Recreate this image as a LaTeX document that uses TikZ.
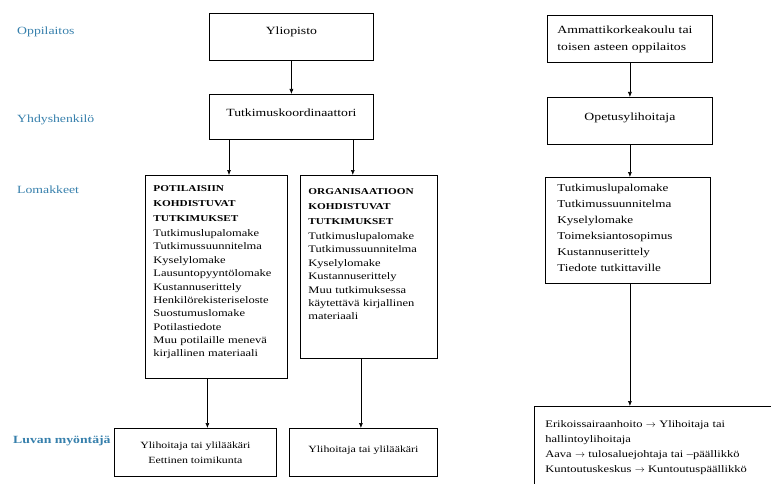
\documentclass[tikz,border=0pt]{standalone}
\usepackage{fontspec}
\setmainfont{Liberation Serif}[FakeStretch=1.25]
\usetikzlibrary{positioning,arrows.meta}
\definecolor{labelblue}{RGB}{55,128,172}

\begin{document}
\begin{tikzpicture}[x = 1pt, y = -1pt,
    every node/.style = { font = \fontsize{11}{17}\selectfont },
    box/.style = { draw, line width = .8pt, anchor = north west, align = center, inner sep = 0pt },
    listbox/.style = { draw, line width = .8pt, anchor = north west, align = left, inner ysep = 0pt },
    level/.style = { anchor = west, text = labelblue, inner sep = 0pt },
    arr/.style = { -{Latex[length = 5pt, width = 4pt]}, line width = .6pt }]
  \useasboundingbox (0,0) rectangle (771,484);

  % levels on the left
  \node [level] (oppilaitos) at (17,32) {Oppilaitos};
  \node [level] (yhdyshenkilo) at (17,120) {Yhdyshenkilö};
  \node [level] (lomakkeet) at (17,190) {Lomakkeet};
  \node [level, font = \bfseries\fontsize{11}{13}\selectfont] (myontaja) at (13,441) {Luvan myöntäjä};

  % university side
  \node [box, minimum width = 164pt, minimum height = 47pt, text depth = 13pt] (yliopisto) at (209,13) {Yliopisto};
  \node [box, minimum width = 164pt, minimum height = 45pt, text depth = 9pt] (koordinaattori) at (209,94) {Tutkimuskoordinaattori};
  \node [listbox, text width = 126pt, inner xsep = 8pt, text height = 16pt, text depth = 187pt,
         font = \fontsize{10}{13.4}\selectfont] (potilas) at (145,175)
    { \textbf{\fontsize{9}{13.4}\selectfont POTILAISIIN}\\[1.6pt]
      \textbf{\fontsize{9}{13.4}\selectfont KOHDISTUVAT}\\[1.6pt]
      \textbf{\fontsize{9}{13.4}\selectfont TUTKIMUKSET}\\[1.6pt]
      Tutkimuslupalomake\\ Tutkimussuunnitelma\\ Kyselylomake\\ Lausuntopyyntölomake\\
      Kustannuserittely\\ Henkilörekisteriseloste\\ Suostumuslomake\\ Potilastiedote\\
      Muu potilaille menevä\\ kirjallinen materiaali };
  \node [listbox, text width = 121pt, inner xsep = 8pt, text height = 19pt, text depth = 164pt,
         font = \fontsize{10}{13.4}\selectfont] (organisaatio) at (300,175)
    { \textbf{\fontsize{9}{13.4}\selectfont ORGANISAATIOON}\\[1.6pt]
      \textbf{\fontsize{9}{13.4}\selectfont KOHDISTUVAT}\\[1.6pt]
      \textbf{\fontsize{9}{13.4}\selectfont TUTKIMUKSET}\\[1.6pt]
      Tutkimuslupalomake\\ Tutkimussuunnitelma\\ Kyselylomake\\ Kustannuserittely\\
      Muu tutkimuksessa\\ käytettävä kirjallinen\\ materiaali };
  \node [box, minimum width = 162pt, minimum height = 48pt, font = \fontsize{9.5}{15}\selectfont] (ylihoitaja)
    at (114,428) {Ylihoitaja tai ylilääkäri\\ Eettinen toimikunta};
  \node [box, minimum width = 148pt, minimum height = 48pt, font = \fontsize{9.5}{15}\selectfont, text depth = 6pt] (ylilaakari)
    at (289,428) {Ylihoitaja tai ylilääkäri};

  % polytechnic side
  \node [box, align = left, text width = 145pt, inner xsep = 10pt, minimum height = 47pt] (amk) at (547,15)
    {Ammattikorkeakoulu tai\\ toisen asteen oppilaitos};
  \node [box, minimum width = 165pt, minimum height = 47pt, text depth = 8pt] (opetus) at (547,97) {Opetusylihoitaja};
  \node [listbox, text width = 141pt, inner xsep = 12pt, text height = 14pt, text depth = 92pt,
         font = \fontsize{10.5}{16}\selectfont] (lomakkeet2) at (545,177)
    { Tutkimuslupalomake\\ Tutkimussuunnitelma\\ Kyselylomake\\ Toimeksiantosopimus\\
      Kustannuserittely\\ Tiedote tutkittaville };
  \node [listbox, text width = 230pt, inner xsep = 11pt, text height = 21pt, text depth = 66pt,
         font = \fontsize{10}{15}\selectfont] (paattaja) at (534,406)
    { Erikoissairaanhoito $\rightarrow$ Ylihoitaja tai\\ hallintoylihoitaja\\
      Aava $\rightarrow$ tulosaluejohtaja tai –päällikkö\\
      Kuntoutuskeskus $\rightarrow$ Kuntoutuspäällikkö };

  % connectors
  \draw [arr] (yliopisto) -- (koordinaattori);
  \draw [arr] ([xshift = 20pt]koordinaattori.south west) -- ([xshift = 20pt]koordinaattori.south west |- potilas.north);
  \draw [arr] ([xshift = -21pt]koordinaattori.south east) -- ([xshift = -21pt]koordinaattori.south east |- organisaatio.north);
  \draw [arr] ([xshift = -9pt]potilas.south) -- ([xshift = -9pt]potilas.south |- ylihoitaja.north);
  \draw [arr] ([xshift = -8pt]organisaatio.south) -- ([xshift = -8pt]organisaatio.south |- ylilaakari.north);
  \draw [arr] (amk.south) -- (amk.south |- opetus.north);
  \draw [arr] (opetus.south) -- (opetus.south |- lomakkeet2.north);
  \draw [arr] (lomakkeet2.south -| opetus.south) -- (opetus.south |- paattaja.north);
\end{tikzpicture}
\end{document}
